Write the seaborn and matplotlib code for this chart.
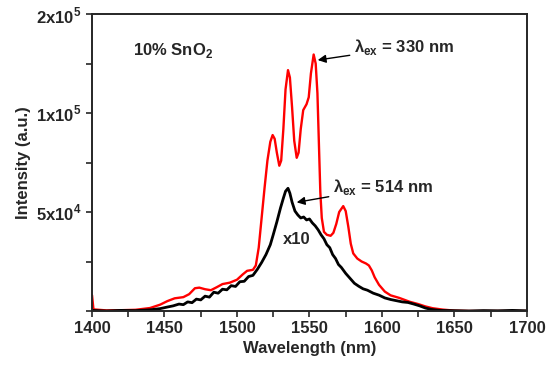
import numpy as np
import pandas as pd
import matplotlib
matplotlib.use("Agg")
import matplotlib.pyplot as plt
from matplotlib.ticker import FixedLocator, FixedFormatter, MultipleLocator
import seaborn as sns

# emission under 330 nm excitation
wl_330 = [1400, 1401, 1410, 1420, 1430, 1440, 1447, 1452, 1457, 1463, 1467, 1471, 1474,
          1478, 1482, 1486, 1490, 1495, 1500, 1504, 1507, 1511, 1513, 1515, 1517, 1519,
          1521, 1523, 1524.6, 1526, 1527.5, 1529.2, 1530.5, 1532, 1533.5, 1535.2, 1536.5,
          1538, 1539.5, 1541.2, 1542.5, 1544, 1545.7, 1548, 1549.5, 1551, 1552.9, 1554.3,
          1555.5, 1556.5, 1557.5, 1558.5, 1560, 1562, 1564.6, 1566.5, 1568.5, 1570.5,
          1573.3, 1575, 1576.8, 1578.5, 1580.2, 1583, 1586, 1589, 1591, 1593, 1595, 1598,
          1602, 1606, 1612, 1619, 1625, 1630, 1635, 1642, 1650, 1660, 1680, 1700]
int_330 = [8000, 800, 300, 400, 600, 1500, 3200, 5000, 6400, 7000, 8500, 11500, 11800,
           11000, 10500, 12000, 13600, 14300, 15800, 18500, 20300, 20800, 23000, 32000,
           47000, 62000, 76000, 85500, 88900, 87000, 80000, 73400, 76000, 92000, 112000,
           121700, 118000, 103000, 86000, 77400, 80000, 92000, 101500, 104500, 108000,
           120000, 129600, 125000, 110000, 85000, 60000, 47000, 40000, 38500, 38000, 39500,
           44000, 50000, 53000, 50500, 42600, 34000, 29100, 26500, 25000, 24000, 23000,
           20500, 17000, 13200, 9800, 7900, 6600, 4700, 3500, 2300, 1400, 700, 200, 0, 0, 0]

# emission under 514 nm excitation (x10)
wl_514 = [1400, 1410, 1420, 1430, 1440, 1447, 1452, 1456, 1460, 1463, 1466, 1469, 1472,
          1475, 1478, 1481, 1484, 1487, 1490, 1493, 1496, 1499, 1502, 1505, 1508, 1511,
          1514, 1517, 1520, 1523, 1525, 1527.5, 1530, 1532, 1533.5, 1535.2, 1536.5, 1538,
          1540, 1542, 1544, 1546, 1548, 1550, 1552, 1554, 1556, 1558, 1560, 1562, 1564,
          1566, 1568, 1570, 1572, 1575, 1578, 1581, 1584, 1587, 1590, 1594, 1598, 1602,
          1606, 1610, 1614, 1618, 1622, 1626, 1630, 1634, 1640, 1650, 1660, 1670, 1680,
          1690, 1700]
int_514 = [300, 0, 300, 200, 600, 1200, 2000, 2600, 3500, 3200, 4600, 4200, 6000, 5600,
           7500, 7000, 9500, 9000, 11000, 10700, 12800, 12400, 14800, 15000, 17400, 18000,
           21000, 24500, 28500, 33500, 38500, 45000, 52000, 57000, 60500, 62000, 59500,
           55000, 50500, 48500, 47000, 47500, 46000, 46500, 44500, 43000, 41000, 38500,
           36500, 33500, 32000, 28500, 26500, 23500, 22000, 19000, 16500, 14000, 12500,
           11200, 10500, 9000, 8000, 6600, 5800, 5200, 4600, 4300, 3500, 2600, 1500, 800,
           300, 150, 0, 200, 100, 300, 100]

y_ticks = [0, 25000, 50000, 75000, 100000, 125000, 150000]
y_labels = ["", "", "5x10$^4$", "", "1x10$^5$", "", "2x10$^5$"]

sns.set_style("ticks")
plt.rcParams["font.family"] = ["Liberation Sans", "DejaVu Sans"]
plt.rcParams["font.weight"] = "bold"
plt.rcParams["mathtext.fontset"] = "custom"
plt.rcParams["mathtext.rm"] = "Liberation Sans:bold"
plt.rcParams["mathtext.bf"] = "Liberation Sans:bold"

df_330 = pd.DataFrame({"wl": wl_330, "I": int_330})
df_514 = pd.DataFrame({"wl": wl_514, "I": int_514})

fig = plt.figure(figsize=(5.5, 3.72), dpi=100)
ax = fig.add_axes([0.1673, 0.164, 0.7907, 0.798])

sns.lineplot(data=df_330, x="wl", y="I", color="#ff0000", lw=1.7, sort=False, estimator=None, ax=ax)
sns.lineplot(data=df_514, x="wl", y="I", color="black", lw=2.0, sort=False, estimator=None, ax=ax)

ax.set_xlim(1400, 1700)
ax.set_ylim(0, 150000)
ax.xaxis.set_major_locator(MultipleLocator(50))
ax.xaxis.set_minor_locator(MultipleLocator(25))
ax.yaxis.set_major_locator(FixedLocator(y_ticks))
ax.yaxis.set_major_formatter(FixedFormatter(y_labels))
ax.tick_params(which="both", direction="out", length=4, width=1.2, labelsize=12)
for s in ax.spines.values():
    s.set_linewidth(1.4)

ax.set_xlabel("Wavelength (nm)", fontsize=12, fontweight="bold", labelpad=3)
ax.set_ylabel("Intensity (a.u.)", fontsize=12, fontweight="bold", labelpad=4)

ax.text(1428, 131800, "10% SnO$_2$", fontsize=12, fontweight="bold", va="center")
ax.annotate("λ$_{\\mathrm{ex}}$ = 330 nm", xy=(1555.7, 126800), xytext=(1581, 133300),
            fontsize=12, fontweight="bold", va="center",
            arrowprops=dict(arrowstyle="-|>", color="black", lw=1, mutation_scale=12,
                            shrinkA=1, shrinkB=0))
ax.annotate("λ$_{\\mathrm{ex}}$ = 514 nm", xy=(1541.2, 54900), xytext=(1566.5, 62600),
            fontsize=12, fontweight="bold", va="center",
            arrowprops=dict(arrowstyle="-|>", color="black", lw=1, mutation_scale=12,
                            shrinkA=1, shrinkB=0))
ax.text(1531.5, 35900, "x10", fontsize=12, fontweight="bold", va="center")

fig.savefig("out.png", dpi=100)
